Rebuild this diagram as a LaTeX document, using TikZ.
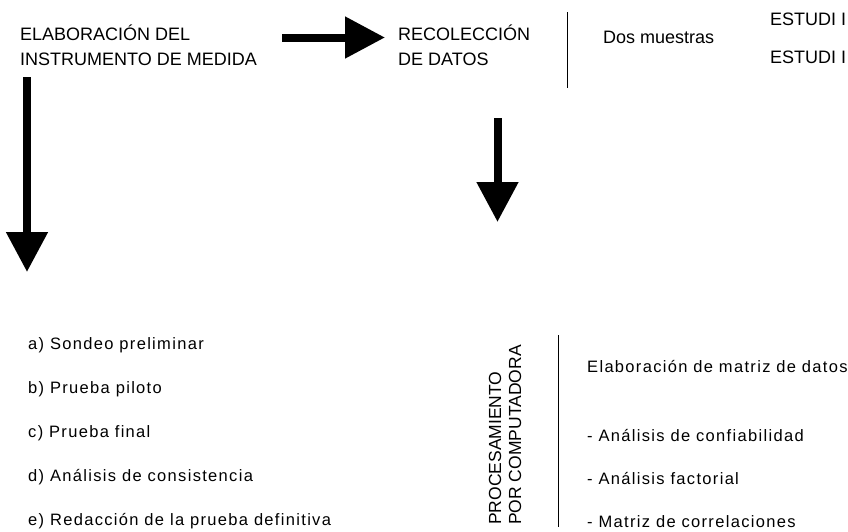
\documentclass[tikz,border=0pt]{standalone}
\usepackage{fontspec}
\setmainfont{Liberation Sans}
\newfontfamily\wideff[LetterSpace=8]{Liberation Sans}
\usetikzlibrary{arrows.meta}
\begin{document}
\begin{tikzpicture}[x=1pt,y=-1pt,
  txt/.style={anchor=base west, inner sep=0pt, font=\fontsize{18}{21}\selectfont},
  lst/.style={anchor=base west, inner sep=0pt, font=\wideff\fontsize{16.5}{19}\selectfont},
  rot/.style={anchor=base west, inner sep=0pt, rotate=90, font=\fontsize{17.5}{20}\selectfont},
  bigarrow/.style={line width=8pt, -{Triangle[width=40pt,length=40pt]}},
  sep/.style={line width=0.8pt}]
\useasboundingbox (0,0) rectangle (848,531);
\fill[white] (0,0) rectangle (848,531);
\clip (0,0) rectangle (848,531);

% top row
\node[txt] (elab1) at (20,40) {ELABORACIÓN DEL};
\node[txt] (elab2) at (20,65) {INSTRUMENTO DE MEDIDA};
\node[txt] (recol1) at (398,40) {RECOLECCIÓN};
\node[txt] (recol2) at (398,65) {DE DATOS};
\node[txt] (dos) at (603,43) {Dos muestras};
\node[txt] (est1) at (770,25) {ESTUDI I};
\node[txt] (est2) at (770,63) {ESTUDI I};

\coordinate (sepA1) at (567.5,12);
\coordinate (sepA2) at (567.5,88);
\draw[sep] (sepA1) -- (sepA2);

% arrows
\coordinate (a1s) at (282,37.5);
\coordinate (a1e) at (385,37.5);
\draw[bigarrow] (a1s) -- (a1e);
\coordinate (a2s) at (27,77);
\coordinate (a2e) at (27,272);
\draw[bigarrow] (a2s) -- (a2e);
\coordinate (a3s) at (497.5,118);
\coordinate (a3e) at (497.5,222);
\draw[bigarrow] (a3s) -- (a3e);

% left list
\node[lst] (la) at (28,349) {a) Sondeo preliminar};
\node[lst] (lb) at (28,393) {b) Prueba piloto};
\node[lst] (lc) at (28,437) {c) Prueba final};
\node[lst] (ld) at (28,481) {d) Análisis de consistencia};
\node[lst] (le) at (28,525) {e) Redacción de la prueba definitiva};

% rotated
\node[rot] (proc) at (501,525) {PROCESAMIENTO};
\node[rot] (porc) at (521,525) {POR COMPUTADORA};

\coordinate (sepB1) at (558.5,335);
\coordinate (sepB2) at (558.5,527);
\draw[sep] (sepB1) -- (sepB2);

% right list
\node[lst] (ra) at (587,372) {Elaboración de matriz de datos};
\node[lst] (rb) at (587,441) {- Análisis de confiabilidad};
\node[lst] (rc) at (587,484) {- Análisis factorial};
\node[lst] (rd) at (587,527) {- Matriz de correlaciones};
\end{tikzpicture}
\end{document}
